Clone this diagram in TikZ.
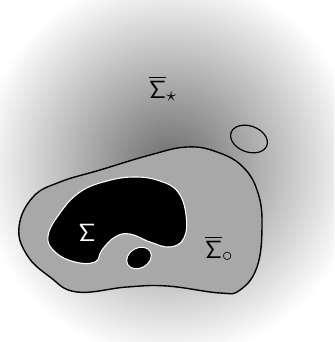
\documentclass[tikz,border=0pt]{standalone}
\usepackage{amsmath}
\usepackage{amssymb}

\begin{document}
\begin{tikzpicture}[x=1pt,y=-1pt]
  \useasboundingbox (0,0) rectangle (334,342);
  \clip (0,0) rectangle (334,342);
  \shade[inner color=black!58, outer color=white] (170,166) circle (192);
  \draw[line width=1.4pt, fill=black!34] plot[smooth cycle, tension=0.7] coordinates
    {(19,227) (33,197) (60,182) (100,170) (150,155) (187,147) (217,152) (243,167)
     (258,193) (262,227) (257,267) (240,290) (220,293) (167,286) (127,287) (77,292)
     (50,277) (27,255)};
  \draw[white, line width=1.1pt, fill=black] plot[smooth cycle, tension=0.7] coordinates
    {(48,236) (60,213) (80,192) (107,181) (135,177) (160,181) (178,192) (186,215)
     (184,238) (170,247) (150,242) (130,234) (115,237) (102,250) (95,262) (75,262)
     (55,252)};
  \draw[white, line width=1pt, fill=black] (139,258) ellipse [x radius=13, y radius=10, rotate=30];
  \draw[line width=1.2pt] (249,139) ellipse [x radius=19, y radius=13, rotate=-20];
  \node (star) at (163,89) {\Huge $\overline{\mathsf{\Sigma}}_\star$};
  \node[white] (sigma) at (87,233) {\Huge $\mathsf{\Sigma}$};
  \node (circ) at (219,249) {\Huge $\overline{\mathsf{\Sigma}}_\circ$};
\end{tikzpicture}
\end{document}
